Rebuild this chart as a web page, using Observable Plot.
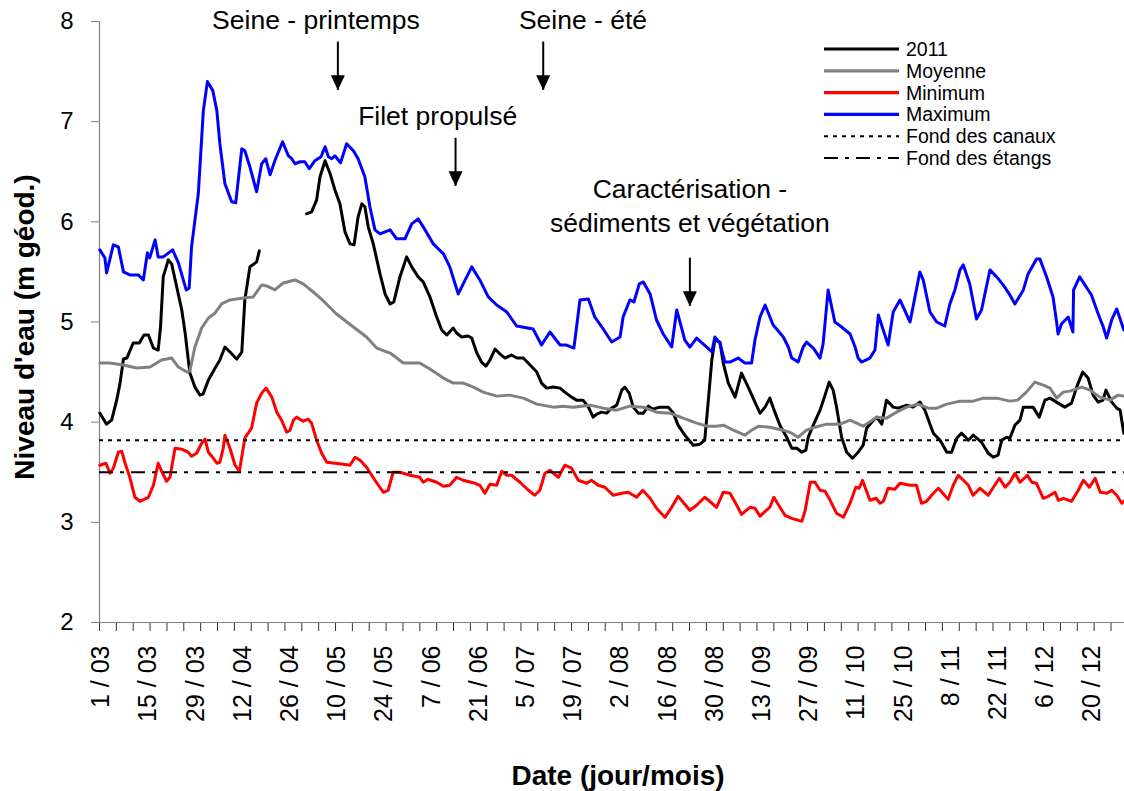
<!DOCTYPE html>
<html>
<head>
<meta charset="utf-8">
<script src="https://cdn.jsdelivr.net/npm/d3@7"></script>
<script src="https://cdn.jsdelivr.net/npm/@observablehq/plot@0.6"></script>
<style>
  html, body { margin: 0; padding: 0; background: #fff; }
</style>
</head>
<body>
<div id="chart"></div>
<script>
// ---- Data (day offset from 1 March, water level in m géod.) ----
const daysMax = [0.1,1.6,2.1,4.1,5.6,7.1,9.0,11.5,13.0,14.2,14.9,16.5,17.4,18.9,21.7,23.4,25.7,26.6,27.3,29.3,30.8,32.0,33.6,34.8,35.7,37.2,39.2,40.4,42.2,43.1,44.6,46.6,48.1,49.3,50.6,52.0,54.3,56.0,57.0,58.0,59.5,60.9,62.2,63.9,65.7,66.9,67.9,68.9,69.8,71.5,73.3,75.3,76.7,78.7,80.2,81.7,83.2,86.2,88.1,90.6,92.6,94.5,96.0,99.0,102.0,103.9,106.4,110.4,112.8,115.3,117.8,120.8,123.7,128.6,131.1,133.6,136.6,138.5,140.7,142.5,145.0,146.9,149.4,151.9,154.4,155.3,157.3,158.5,160.1,161.3,163.3,165.2,167.2,169.7,171.2,173.6,175.1,177.1,180.1,181.6,182.5,184.0,185.5,187.0,189.4,191.4,193.4,194.4,195.9,197.4,199.8,202.8,204.3,205.3,207.2,208.7,209.7,211.7,213.7,214.6,216.1,218.1,220.1,222.6,224.1,225.0,226.0,228.5,230.0,231.0,233.9,235.4,237.4,240.4,243.3,244.3,246.3,248.3,250.7,252.2,253.7,255.2,256.2,258.1,260.1,261.6,264.1,266.1,268.0,270.0,271.5,274.0,275.4,277.9,278.9,280.9,282.8,283.9,284.3,285.3,287.3,288.7,288.9,290.7,294.2,296.2,297.7,298.7,300.2,301.7,303.8];
const valsMax = [5.72,5.64,5.49,5.77,5.75,5.50,5.47,5.47,5.42,5.69,5.64,5.82,5.65,5.65,5.72,5.59,5.32,5.34,5.75,6.28,7.11,7.40,7.31,7.11,6.78,6.38,6.20,6.19,6.73,6.71,6.55,6.30,6.58,6.63,6.47,6.61,6.80,6.66,6.63,6.58,6.60,6.60,6.53,6.61,6.65,6.75,6.65,6.63,6.66,6.59,6.78,6.71,6.63,6.45,6.15,5.92,5.88,5.92,5.83,5.83,5.98,6.03,5.95,5.78,5.68,5.55,5.28,5.55,5.42,5.25,5.17,5.10,4.96,4.93,4.77,4.90,4.77,4.77,4.74,5.22,5.23,5.05,4.93,4.80,4.85,5.05,5.22,5.20,5.38,5.40,5.28,5.02,4.88,4.75,5.12,4.82,4.75,4.84,4.75,4.70,4.85,4.79,4.60,4.60,4.64,4.59,4.59,4.82,5.05,5.17,4.97,4.85,4.75,4.64,4.60,4.75,4.80,4.74,4.64,4.78,5.32,5.00,4.95,4.88,4.75,4.64,4.60,4.64,4.72,5.07,4.77,5.10,5.22,5.00,5.50,5.42,5.10,5.00,4.96,5.18,5.32,5.52,5.57,5.38,5.03,5.12,5.52,5.45,5.37,5.27,5.18,5.32,5.48,5.63,5.63,5.45,5.25,4.99,4.88,4.98,5.05,4.90,5.32,5.45,5.27,5.08,4.95,4.84,5.02,5.13,4.92];

// 2011 (null = missing data)
const days2011 = [0.1,2.1,3.6,5.1,6.1,7.1,8.1,10.0,11.8,13.2,14.5,16.0,17.4,18.1,18.9,20.4,21.4,22.9,24.4,25.4,26.8,28.3,29.8,30.7,32.3,34.3,35.7,37.2,38.7,40.7,42.2,43.1,44.6,46.6,47.4,
  54,
  61.4,62.9,64.4,65.4,66.9,68.4,69.8,71.3,72.8,74.3,75.5,76.7,77.8,78.7,79.7,81.2,83.2,84.7,86.2,87.3,89.1,91.1,92.6,94.5,96.0,98.0,100.0,101.5,103.0,104.9,105.9,107.4,109.3,110.4,111.9,113.3,114.6,115.8,117.3,118.8,120.3,122.2,123.8,125.7,127.7,129.7,131.1,132.6,134.6,136.6,138.0,140.0,141.5,143.4,145.0,146.4,147.5,148.9,150.4,151.9,153.4,154.9,155.8,157.1,158.3,159.8,161.3,162.8,164.1,166.2,168.7,170.2,171.6,173.6,176.1,178.1,179.5,180.5,181.6,182.5,184.0,185.0,186.5,188.5,190.4,192.4,194.4,195.9,197.4,198.8,200.3,201.8,203.8,205.3,206.8,208.3,209.5,210.2,211.7,213.7,215.0,216.4,217.6,218.6,220.1,221.6,223.3,225.0,226.5,227.5,229.0,230.5,232.0,233.4,235.4,236.9,239.4,241.3,243.3,244.8,247.3,249.3,251.3,252.7,254.2,255.7,257.7,259.1,261.6,263.6,265.1,266.5,267.6,269.0,270.0,271.5,273.0,274.0,276.9,278.7,280.4,281.9,284.3,286.3,288.3,289.8,291.6,293.2,294.7,296.2,297.6,298.5,300.2,301.7,302.7,303.8];
const vals2011 = [4.09,3.98,4.02,4.22,4.39,4.63,4.64,4.79,4.79,4.87,4.87,4.74,4.72,4.95,5.45,5.62,5.58,5.35,5.12,4.89,4.49,4.35,4.27,4.28,4.42,4.54,4.62,4.75,4.70,4.63,4.70,5.22,5.55,5.60,5.71,
  null,
  6.08,6.10,6.22,6.45,6.61,6.48,6.32,6.18,5.90,5.78,5.77,6.05,6.18,6.15,5.95,5.78,5.48,5.28,5.18,5.20,5.45,5.65,5.55,5.45,5.40,5.25,5.05,4.92,4.87,4.94,4.89,4.85,4.86,4.84,4.69,4.60,4.56,4.62,4.73,4.68,4.64,4.67,4.64,4.64,4.57,4.50,4.39,4.34,4.35,4.34,4.30,4.25,4.22,4.22,4.15,4.05,4.08,4.10,4.09,4.14,4.17,4.32,4.35,4.29,4.15,4.09,4.09,4.16,4.13,4.15,4.15,4.09,3.97,3.87,3.77,3.78,3.82,4.19,4.62,4.82,4.80,4.59,4.39,4.25,4.49,4.35,4.20,4.09,4.15,4.24,4.10,3.97,3.85,3.74,3.74,3.70,3.72,3.85,3.97,4.12,4.25,4.40,4.32,4.15,3.85,3.70,3.64,3.70,3.77,3.94,4.00,4.05,3.98,4.22,4.15,4.14,4.17,4.15,4.20,4.12,3.89,3.82,3.70,3.70,3.84,3.89,3.82,3.87,3.80,3.69,3.65,3.67,3.82,3.85,3.84,3.97,4.02,4.15,4.15,4.05,4.22,4.24,4.19,4.15,4.19,4.35,4.50,4.44,4.27,4.20,4.22,4.32,4.20,4.14,4.12,3.89];

const daysMoy = [0.1,3.1,7.1,11.0,15.0,18.4,21.4,23.4,25.9,26.8,28.3,30.3,32.3,34.3,36.2,38.7,42.6,45.6,48.1,49.6,52.0,54.5,58.0,60.4,63.4,66.4,70.3,75.3,79.2,82.2,86.2,90.1,95.0,98.0,102.0,104.9,107.9,110.9,113.8,117.8,121.7,125.7,129.7,134.6,137.5,140.5,145.5,149.4,153.4,157.3,161.3,165.2,169.2,173.1,177.1,180.1,182.9,185.0,188.0,191.4,193.4,195.4,198.8,202.8,205.3,207.2,209.7,212.2,215.6,219.6,222.6,226.5,230.5,233.4,236.4,239.4,242.8,245.8,248.3,251.3,255.2,259.1,262.1,266.1,270.0,272.3,274.9,277.4,279.9,281.9,283.9,285.8,287.8,291.3,293.8,296.7,299.7,302.1,303.8];
const valsMoy = [4.59,4.59,4.57,4.54,4.55,4.62,4.64,4.55,4.50,4.51,4.75,4.94,5.04,5.09,5.18,5.22,5.24,5.25,5.37,5.36,5.32,5.39,5.42,5.38,5.30,5.21,5.08,4.95,4.85,4.74,4.69,4.59,4.59,4.53,4.44,4.39,4.39,4.35,4.30,4.26,4.27,4.24,4.18,4.15,4.16,4.15,4.17,4.14,4.12,4.16,4.15,4.10,4.09,4.04,3.99,3.96,3.96,3.97,3.92,3.87,3.92,3.96,3.95,3.92,3.89,3.85,3.92,3.95,3.98,3.98,4.02,3.96,4.05,4.04,4.10,4.15,4.18,4.14,4.14,4.18,4.21,4.21,4.24,4.24,4.21,4.22,4.30,4.40,4.37,4.34,4.24,4.30,4.31,4.35,4.32,4.25,4.22,4.27,4.26];

const daysMin = [0.1,1.9,3.1,4.1,5.6,6.6,7.6,9.0,10.5,12.0,14.5,16.0,17.4,18.7,19.9,20.9,22.4,24.4,26.3,27.3,28.8,30.3,31.3,32.3,33.3,34.8,35.7,36.7,37.2,38.7,40.2,41.5,43.1,45.1,46.6,48.1,49.4,51.1,52.6,54.0,55.5,56.5,57.5,58.5,60.4,61.9,62.9,64.4,65.9,67.4,69.8,72.3,74.3,75.8,77.3,79.2,81.7,84.2,85.6,87.1,89.1,92.1,95.0,96.0,97.4,100.0,102.0,103.9,105.9,107.8,111.4,112.8,114.3,115.8,117.8,119.3,120.8,122.2,124.7,127.2,129.1,130.6,132.1,133.6,136.1,138.0,140.0,142.0,144.5,145.9,147.9,149.9,152.4,154.9,156.8,159.3,161.1,163.3,165.2,167.7,169.7,171.6,173.1,175.1,177.1,179.5,181.0,183.0,185.0,187.0,189.0,190.4,192.9,194.4,195.9,197.4,198.8,200.0,201.8,203.3,205.3,208.3,209.3,210.8,212.2,213.7,215.2,216.7,218.6,220.6,222.6,224.3,225.3,226.3,228.5,230.3,231.5,232.5,233.9,235.9,237.4,240.4,242.3,243.8,245.3,247.3,248.8,251.7,253.2,254.7,256.2,257.7,259.1,261.1,263.6,265.1,266.9,268.6,270.0,271.5,273.0,275.2,276.5,277.9,279.9,281.4,283.4,284.4,285.9,288.3,290.3,291.8,293.6,295.3,296.8,298.8,300.2,301.7,303.2,303.8];
const valsMin = [3.57,3.59,3.49,3.54,3.70,3.71,3.59,3.45,3.25,3.21,3.25,3.37,3.59,3.49,3.41,3.45,3.74,3.73,3.70,3.66,3.69,3.79,3.83,3.70,3.66,3.59,3.60,3.74,3.87,3.74,3.57,3.51,3.84,3.94,4.19,4.29,4.34,4.25,4.10,4.02,3.90,3.92,4.02,4.05,4.01,4.03,3.99,3.82,3.69,3.60,3.59,3.58,3.57,3.65,3.62,3.55,3.42,3.30,3.32,3.50,3.50,3.47,3.45,3.40,3.43,3.40,3.36,3.37,3.45,3.42,3.39,3.37,3.29,3.38,3.37,3.51,3.47,3.47,3.40,3.32,3.27,3.32,3.49,3.52,3.45,3.57,3.54,3.42,3.39,3.42,3.37,3.35,3.27,3.29,3.30,3.25,3.32,3.24,3.14,3.05,3.15,3.26,3.20,3.12,3.17,3.25,3.21,3.15,3.30,3.29,3.17,3.08,3.15,3.14,3.06,3.11,3.15,3.25,3.15,3.07,3.04,3.01,3.12,3.40,3.40,3.32,3.31,3.22,3.09,3.05,3.19,3.35,3.34,3.42,3.22,3.24,3.19,3.21,3.34,3.33,3.39,3.37,3.37,3.19,3.21,3.29,3.34,3.23,3.37,3.47,3.42,3.37,3.27,3.34,3.27,3.35,3.44,3.35,3.40,3.49,3.40,3.47,3.40,3.39,3.24,3.26,3.30,3.22,3.24,3.21,3.32,3.42,3.35,3.44,3.30,3.29,3.32,3.27,3.19,3.21];

const fondCanaux = 3.82;
const fondEtangs = 3.50;

// Axis ticks & labels
const yTicks = [2, 3, 4, 5, 6, 7, 8];
const xTickDays = d3.range(0, 301, 5);
const labelDays = [0,14,28,42,56,70,84,98,112,126,140,154,168,182,196,210,224,238,252,266,280,294];
const labelTexts = ["1 / 03","15 / 03","29 / 03","12 / 04","26 / 04","10 / 05","24 / 05","7 / 06","21 / 06","5 / 07","19 / 07","2 / 08","16 / 08","30 / 08","13 / 09","27 / 09","11 / 10","25 / 10","8 / 11","22 / 11","6 / 12","20 / 12"];

// Annotations
const annotTexts = ["Seine - printemps", "Seine - été", "Filet propulsé", "Caractérisation -", "sédiments et végétation"];
const annotDays = [64.2, 143.4, 100.3, 175.1, 175.1];
const annotLevels = [7.922, 7.929, 6.964, 6.233, 5.899];
const arrowDays = [70.7, 131.6, 105.6, 175.1];
const arrowTops = [7.795, 7.795, 6.834, 5.637];
const arrowTips = [7.313, 7.313, 6.355, 5.158];

// Legend
const legendLabels = ["2011", "Moyenne", "Minimum", "Maximum", "Fond des canaux", "Fond des étangs"];
const legendColors = ["#000000", "#808080", "#ff0000", "#0000ff", "#000000", "#000000"];
const legendDash = [null, null, null, null, "4,5", "14,7,4,7"];

// ---- Build ----
const font = "'Liberation Sans', Arial, Helvetica, sans-serif";
const rows = (days, vals) => days.map((d, i) => ({day: d, level: vals[i]}));
const labelOf = new Map(labelDays.map((d, i) => [d + 0.5, labelTexts[i]]));
const annots = annotTexts.map((t, i) => ({text: t, day: annotDays[i], level: annotLevels[i]}));
const arrows = arrowDays.map((d, i) => ({day: d, top: arrowTops[i], tip: arrowTips[i]}));

const arrowHead = {
  draw(context) {
    context.moveTo(0, 0);
    context.lineTo(-7, -15);
    context.lineTo(7, -15);
    context.closePath();
  }
};

const lineOpts = {x: "day", y: "level", strokeWidth: 3, strokeLinejoin: "round", strokeLinecap: "round"};

const svg = Plot.plot({
  width: 1124,
  height: 791,
  marginLeft: 99,
  marginRight: 0,
  marginTop: 21,
  marginBottom: 169,
  style: {fontFamily: font, background: "white", overflow: "visible"},
  x: {domain: [0, 304], range: [99, 1124]},
  y: {domain: [2, 8]},
  marks: [
    Plot.axisY({ticks: yTicks, tickSize: 8, tickPadding: 18, fontSize: 24, stroke: "#808080", fill: "black", label: null, tickFormat: d3.format("d")}),
    Plot.axisX({ticks: xTickDays, tickSize: 9, tickFormat: () => "", stroke: "#333", label: null}),
    Plot.axisX({ticks: labelDays.map(d => d + 0.5), tickSize: 0, tickPadding: 23, tickRotate: -90, fontSize: 25, fill: "black", tickFormat: d => labelOf.get(d), label: null}),
    Plot.ruleY([2], {stroke: "#808080", strokeWidth: 1.2}),
    Plot.ruleX([0], {stroke: "#808080", strokeWidth: 1.2}),
    Plot.line(rows(days2011, vals2011), {...lineOpts, stroke: "#000000"}),
    Plot.line(rows(daysMoy, valsMoy), {...lineOpts, stroke: "#808080"}),
    Plot.line(rows(daysMin, valsMin), {...lineOpts, stroke: "#ff0000"}),
    Plot.line(rows(daysMax, valsMax), {...lineOpts, stroke: "#0000ff"}),
    Plot.ruleY([fondCanaux], {stroke: "black", strokeWidth: 2, strokeDasharray: "4,5"}),
    Plot.ruleY([fondEtangs], {stroke: "black", strokeWidth: 2, strokeDasharray: "14,7,4,7"}),
    Plot.text(annots, {x: "day", y: "level", text: "text", lineAnchor: "bottom", textAnchor: "middle", fontSize: 26.5, fill: "black"}),
    Plot.ruleX(arrows, {x: "day", y1: "top", y2: "tip", stroke: "black", strokeWidth: 2}),
    Plot.dot(arrows, {x: "day", y: "tip", symbol: arrowHead, fill: "black", stroke: "none"}),
    Plot.text(["Niveau d'eau (m géod.)"], {frameAnchor: "left", rotate: -90, dx: -66, dy: 5, lineAnchor: "bottom", textAnchor: "middle", fontSize: 28, fontWeight: "bold", fill: "black"}),
    Plot.text(["Date (jour/mois)"], {frameAnchor: "bottom", dx: 6, dy: 162, lineAnchor: "bottom", textAnchor: "middle", fontSize: 28, fontWeight: "bold", fill: "black"})
  ]
});

// Legend (inside the plot, top right)
const lg = d3.select(svg).append("g")
  .attr("font-family", font)
  .attr("font-size", 19.5)
  .attr("text-anchor", "start");
legendLabels.forEach((lab, i) => {
  const yy = 49 + i * 21.8;
  lg.append("line")
    .attr("x1", 824).attr("x2", 899)
    .attr("y1", yy).attr("y2", yy)
    .attr("stroke", legendColors[i])
    .attr("stroke-width", legendDash[i] ? 2 : 3.2)
    .attr("stroke-dasharray", legendDash[i]);
  lg.append("text")
    .attr("x", 906).attr("y", yy)
    .attr("dy", "0.36em")
    .attr("text-anchor", "start")
    .attr("fill", "black")
    .text(lab);
});

document.getElementById("chart").appendChild(svg);
</script>
</body>
</html>
